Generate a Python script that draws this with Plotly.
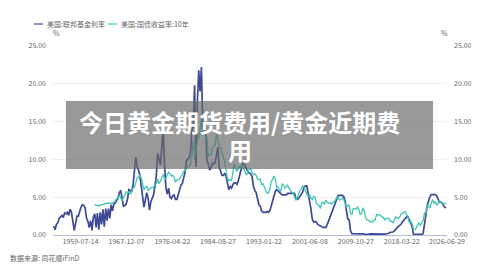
import plotly.graph_objects as go
import datetime as dt

# ---------------- data (quarterly readings from the chart) ----------------
ff_start = (1954, 3)  # year, quarter of first fed funds value
fed_funds = [
    1.2, 0.7,
    1.4, 1.6, 2.2, 2.4,
    2.6, 2.3, 2.9, 2.8,
    3.0, 2.6, 3.4, 3.0,
    1.9, 0.6, 1.5, 2.5,
    2.5, 3.3, 3.7, 4.0,
    3.9, 3.6, 2.2, 1.8,
    1.0, 1.9, 0.6, 2.4,
    2.8, 1.0, 2.9, 0.7,
    3.0, 1.4, 3.4, 1.1,
    3.5, 1.9, 3.5, 2.2,
    4.0, 3.2, 4.1, 4.2,
    4.6, 4.9, 5.6, 5.9,
    4.8, 3.8, 3.9, 4.1,
    4.8, 6.0, 5.9, 5.8,
    6.6, 8.5, 10.3, 9.0,
    8.6, 7.9, 6.6, 5.5,
    3.7, 4.6, 5.6, 4.9,
    3.3, 4.4, 4.8, 5.3,
    6.5, 7.8, 10.8, 10.0,
    9.3, 11.5, 13.9, 9.4,
    6.3, 5.4, 6.2, 5.0,
    4.8, 5.2, 5.3, 4.7,
    4.7, 5.3, 6.0, 6.6,
    6.8, 7.4, 8.3, 9.8,
    10.1, 10.2, 11.0, 13.8,
    14.5, 19.8, 9.0, 17.5,
    21.8, 19.0, 22.2, 14.0,
    14.5, 14.8, 10.0, 9.2,
    8.6, 8.9, 9.5, 9.4,
    9.6, 10.5, 11.6, 9.0,
    8.5, 7.9, 7.9, 8.1,
    7.8, 6.9, 6.0, 6.4,
    6.2, 6.7, 6.9, 6.9,
    6.7, 7.2, 8.0, 8.5,
    9.4, 9.5, 9.1, 8.6,
    8.3, 8.2, 8.1, 7.7,
    6.4, 5.9, 5.6, 4.8,
    4.0, 3.8, 3.2, 3.0,
    3.0, 3.0, 3.1, 3.0,
    3.2, 3.9, 4.6, 5.2,
    5.8, 6.0, 5.8, 5.7,
    5.4, 5.3, 5.3, 5.3,
    5.3, 5.5, 5.5, 5.5,
    5.5, 5.5, 5.5, 4.9,
    4.7, 4.8, 5.1, 5.3,
    5.7, 6.3, 6.5, 6.5,
    5.6, 4.3, 3.5, 2.1,
    1.7, 1.8, 1.7, 1.4,
    1.3, 1.2, 1.0, 1.0,
    1.0, 1.0, 1.4, 1.9,
    2.5, 2.9, 3.4, 3.9,
    4.5, 4.9, 5.25, 5.25,
    5.25, 5.25, 5.1, 4.5,
    3.2, 2.1, 2.0, 0.5,
    0.18, 0.18, 0.16, 0.12,
    0.13, 0.19, 0.19, 0.19,
    0.15, 0.09, 0.08, 0.07,
    0.10, 0.15, 0.14, 0.16,
    0.14, 0.11, 0.08, 0.09,
    0.07, 0.09, 0.09, 0.10,
    0.11, 0.13, 0.14, 0.24,
    0.36, 0.37, 0.40, 0.54,
    0.70, 0.95, 1.15, 1.30,
    1.45, 1.75, 1.95, 2.20,
    2.40, 2.40, 2.05, 1.60,
    1.10, 0.06, 0.09, 0.09,
    0.08, 0.07, 0.08, 0.08,
    0.20, 1.20, 2.60, 3.90,
    4.60, 5.05, 5.33, 5.33,
    5.33, 5.33, 5.15, 4.60,
    4.33, 4.33, 4.25, 3.85,
    3.64, 3.64,
]

t10_start = (1962, 1)
treasury_10y = [
    4.05, 3.90, 3.95, 3.85,
    3.95, 4.00, 4.05, 4.15,
    4.20, 4.20, 4.20, 4.15,
    4.20, 4.20, 4.30, 4.50,
    4.80, 4.90, 5.20, 4.90,
    4.60, 4.90, 5.30, 5.70,
    5.60, 5.70, 5.40, 5.90,
    6.20, 6.30, 6.90, 7.50,
    7.70, 7.90, 7.50, 6.60,
    6.00, 6.30, 6.50, 5.90,
    6.10, 6.20, 6.30, 6.30,
    6.70, 6.80, 7.40, 6.80,
    7.10, 7.70, 8.00, 7.50,
    7.40, 8.00, 8.30, 8.10,
    7.80, 7.90, 7.70, 7.00,
    7.30, 7.30, 7.40, 7.70,
    8.00, 8.40, 8.50, 8.90,
    9.10, 9.10, 9.30, 10.60,
    12.50, 10.00, 11.00, 12.80,
    12.80, 13.80, 15.30, 13.50,
    14.10, 13.80, 12.80, 10.50,
    10.60, 10.60, 11.60, 11.80,
    11.90, 13.30, 12.70, 11.60,
    11.50, 10.90, 10.30, 9.70,
    8.50, 7.50, 7.20, 7.30,
    7.20, 8.60, 9.40, 8.90,
    8.40, 8.90, 9.10, 8.90,
    9.20, 8.70, 8.20, 7.90,
    8.50, 8.70, 8.80, 8.30,
    8.00, 8.10, 7.90, 7.40,
    7.30, 7.40, 6.60, 6.80,
    6.30, 5.90, 5.50, 5.60,
    6.00, 7.10, 7.30, 7.80,
    7.40, 6.30, 6.30, 5.90,
    5.80, 6.80, 6.60, 6.20,
    6.50, 6.60, 6.20, 5.90,
    5.60, 5.60, 5.10, 4.60,
    4.90, 5.50, 5.90, 6.10,
    6.50, 6.30, 5.90, 5.60,
    5.00, 5.40, 4.90, 4.70,
    5.10, 5.00, 4.20, 4.00,
    3.90, 3.50, 4.30, 4.30,
    4.10, 4.60, 4.30, 4.20,
    4.30, 4.10, 4.30, 4.50,
    4.60, 5.10, 4.90, 4.60,
    4.70, 4.90, 4.70, 4.20,
    3.70, 3.90, 3.90, 2.90,
    2.70, 3.50, 3.50, 3.40,
    3.70, 3.40, 2.70, 2.80,
    3.60, 3.20, 2.30, 2.00,
    2.00, 1.80, 1.70, 1.70,
    2.00, 2.00, 2.70, 2.70,
    2.70, 2.60, 2.40, 2.30,
    2.00, 2.20, 2.20, 2.20,
    1.80, 1.80, 1.60, 2.10,
    2.40, 2.30, 2.20, 2.40,
    2.80, 2.90, 3.00, 3.10,
    2.70, 2.40, 1.60, 1.80,
    1.50, 0.70, 0.70, 0.90,
    1.30, 1.60, 1.30, 1.60,
    1.90, 2.90, 2.90, 4.00,
    3.80, 3.60, 4.20, 4.70,
    4.20, 4.40, 3.90, 4.30,
    4.50, 4.40, 4.30, 4.10,
    4.20, 4.10,
]

x_tick_labels = ["1959-07-14", "1967-12-07", "1976-04-22", "1984-08-27", "1993-01-22",
                 "2001-06-08", "2009-10-27", "2018-03-22", "2026-06-29"]
series_names = ["美国:联邦基金利率", "美国:国债收益率:10年"]
y_ticks = [0, 5, 10, 15, 20, 25]


def quarter_dates(start, n):
    y, q = start
    out = []
    for _ in range(n):
        out.append(dt.date(y, 3 * (q - 1) + 2, 15))
        q += 1
        if q > 4:
            q = 1
            y += 1
    return out


ff_dates = quarter_dates(ff_start, len(fed_funds))
t10_dates = quarter_dates(t10_start, len(treasury_10y))

NAVY = "#3f4a96"
TEAL = "#3ec8b3"
FONT = "Noto Sans CJK SC"
GREY = "#666666"

# plot-area pixel geometry
L, R, T, B = 53, 447, 46, 235


def px(x, y):
    return (x - L) / (R - L), (B - y) / (B - T)


fig = go.Figure()
fig.add_trace(go.Scatter(x=ff_dates, y=fed_funds, mode="lines", name=series_names[0],
                         line=dict(color=NAVY, width=1.7), yaxis="y", showlegend=False))
fig.add_trace(go.Scatter(x=t10_dates, y=treasury_10y, mode="lines", name=series_names[1],
                         line=dict(color=TEAL, width=1.3), yaxis="y2", showlegend=False))

axis_font = dict(family=FONT, size=7, color=GREY)
fig.update_layout(
    width=500, height=271,
    margin=dict(l=L, r=500 - R, t=T, b=271 - B),
    paper_bgcolor="white", plot_bgcolor="white",
    font=dict(family=FONT),
    xaxis=dict(type="date", range=["1954-07-01", "2026-06-29"],
               tickvals=x_tick_labels, ticktext=x_tick_labels,
               showgrid=False, showline=True, linecolor="#b4bbd4", linewidth=1,
               ticks="", tickfont=axis_font, zeroline=False),
    yaxis=dict(range=[0, 25], tickvals=y_ticks, tickformat=".2f",
               showgrid=True, gridcolor="#eeeeee", gridwidth=1, zeroline=False,
               showline=False, ticks="", tickfont=axis_font, ticklabelstandoff=6),
    yaxis2=dict(range=[0, 25], tickvals=y_ticks, tickformat=".2f", overlaying="y",
                side="right", showgrid=False, zeroline=False, showline=False,
                ticks="", tickfont=axis_font, ticklabelstandoff=6),
)

shapes = []
annotations = []
# manual legend
legend_items = [(34, 43, 45, series_names[0], NAVY), (108, 117, 119, series_names[1], TEAL)]
for x0, x1, xt, name, col in legend_items:
    a0, b0 = px(x0, 24)
    a1, _ = px(x1, 24)
    shapes.append(dict(type="line", xref="paper", yref="paper", x0=a0, x1=a1, y0=b0, y1=b0,
                       line=dict(color=col, width=1.2)))
    ax, ay = px(xt, 24)
    annotations.append(dict(text=name, xref="paper", yref="paper", x=ax, y=ay,
                            xanchor="left", yanchor="middle", showarrow=False,
                            font=dict(family=FONT, size=7, color=GREY)))

for xp in (56, 444):
    ax, ay = px(xp, 33)
    annotations.append(dict(text="%", xref="paper", yref="paper", x=ax, y=ay,
                            xanchor="center", yanchor="middle", showarrow=False,
                            font=dict(family=FONT, size=7, color=GREY)))

ax, ay = px(8, 258)
annotations.append(dict(text="数据来源: 同花顺iFinD", xref="paper", yref="paper", x=ax, y=ay,
                        xanchor="left", yanchor="middle", showarrow=False,
                        font=dict(family=FONT, size=7, color=GREY)))

# overlay banner
rx0, ry0 = px(66, 169)
rx1, ry1 = px(433, 101)
shapes.append(dict(type="rect", xref="paper", yref="paper", x0=rx0, x1=rx1, y0=ry0, y1=ry1,
                   fillcolor="rgba(105,105,105,0.68)", line=dict(width=0), layer="above"))
for text, xp, yp in (("今日黄金期货费用/黄金近期费", 239, 121), ("用", 240, 149)):
    ax, ay = px(xp, yp)
    annotations.append(dict(text="<b>" + text + "</b>", xref="paper", yref="paper", x=ax, y=ay,
                            xanchor="center", yanchor="middle", showarrow=False,
                            font=dict(family=FONT, size=24, color="white")))

fig.update_layout(shapes=shapes, annotations=annotations)
fig.write_html("out.html")
